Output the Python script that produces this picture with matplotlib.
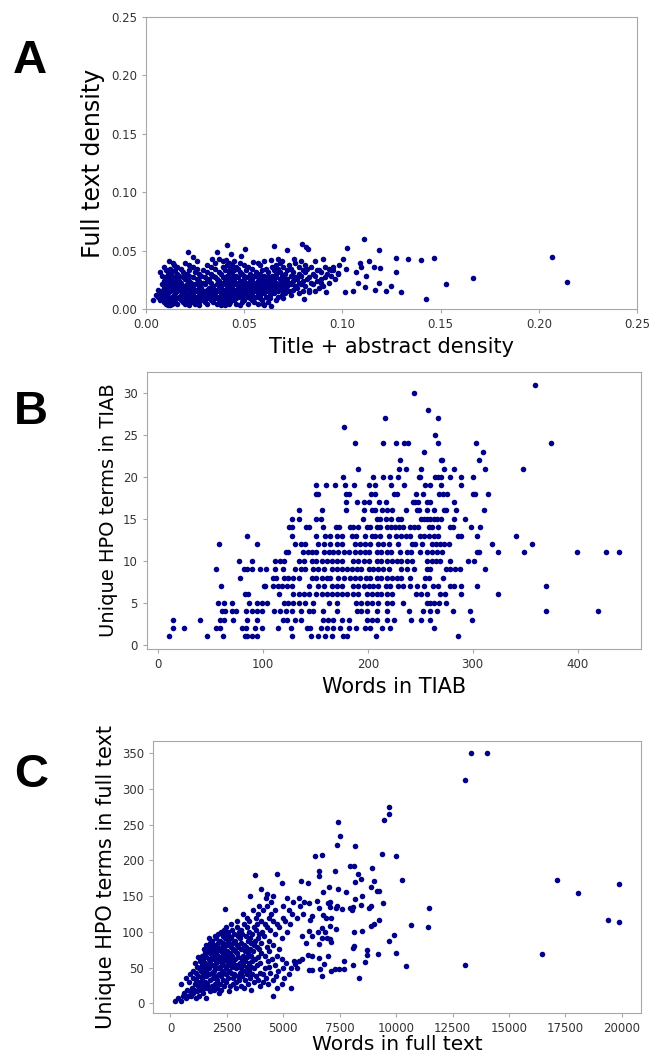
import numpy as np
import matplotlib.pyplot as plt

# ---------- Panel A: title+abstract density vs full text density ----------
# dense cloud, stored as rows (full text density -> list of TIAB densities)
A_row_y = [0.003, 0.0045, 0.006, 0.0075, 0.009, 0.0105, 0.012, 0.0135, 0.015, 0.0165,
           0.018, 0.0195, 0.021, 0.0225, 0.024, 0.0255, 0.027, 0.0285, 0.030, 0.0315,
           0.033, 0.0345, 0.036, 0.0375, 0.039, 0.041]
A_row_x = [
    [0.011, 0.012, 0.022, 0.027, 0.038, 0.040, 0.048, 0.060],
    [0.010, 0.013, 0.016, 0.020, 0.025, 0.031, 0.036, 0.042, 0.046, 0.052, 0.057],
    [0.009, 0.012, 0.015, 0.019, 0.023, 0.027, 0.030, 0.034, 0.039, 0.043, 0.049, 0.055, 0.062],
    [0.007, 0.011, 0.014, 0.018, 0.021, 0.025, 0.029, 0.033, 0.037, 0.041, 0.045, 0.050, 0.054, 0.059, 0.066],
    [0.008, 0.012, 0.016, 0.020, 0.024, 0.027, 0.031, 0.035, 0.038, 0.042, 0.046, 0.049, 0.053, 0.058, 0.063, 0.070],
    [0.006, 0.010, 0.013, 0.017, 0.022, 0.026, 0.029, 0.033, 0.037, 0.040, 0.044, 0.048, 0.052, 0.056, 0.061, 0.067],
    [0.005, 0.009, 0.014, 0.018, 0.021, 0.024, 0.028, 0.032, 0.035, 0.039, 0.043, 0.047, 0.051, 0.054, 0.058, 0.063, 0.069, 0.074],
    [0.007, 0.011, 0.015, 0.019, 0.023, 0.027, 0.030, 0.034, 0.038, 0.041, 0.045, 0.049, 0.053, 0.057, 0.060, 0.065, 0.071, 0.078],
    [0.008, 0.012, 0.016, 0.020, 0.025, 0.029, 0.033, 0.036, 0.040, 0.044, 0.047, 0.051, 0.055, 0.059, 0.062, 0.067, 0.073, 0.080, 0.086],
    [0.006, 0.010, 0.014, 0.018, 0.022, 0.026, 0.031, 0.035, 0.039, 0.042, 0.046, 0.050, 0.053, 0.057, 0.061, 0.064, 0.069, 0.075, 0.083],
    [0.009, 0.013, 0.017, 0.021, 0.024, 0.028, 0.032, 0.037, 0.041, 0.044, 0.048, 0.052, 0.056, 0.059, 0.063, 0.066, 0.071, 0.077, 0.088],
    [0.011, 0.015, 0.019, 0.023, 0.027, 0.034, 0.038, 0.043, 0.047, 0.050, 0.054, 0.058, 0.061, 0.065, 0.068, 0.072, 0.076, 0.081, 0.090],
    [0.008, 0.012, 0.016, 0.021, 0.025, 0.030, 0.036, 0.040, 0.045, 0.049, 0.052, 0.056, 0.060, 0.064, 0.067, 0.070, 0.074, 0.079, 0.085],
    [0.010, 0.014, 0.018, 0.023, 0.029, 0.033, 0.039, 0.042, 0.046, 0.051, 0.055, 0.058, 0.062, 0.066, 0.069, 0.073, 0.078, 0.084, 0.093],
    [0.009, 0.013, 0.017, 0.022, 0.027, 0.031, 0.037, 0.041, 0.044, 0.048, 0.053, 0.057, 0.061, 0.065, 0.071, 0.075, 0.080, 0.087],
    [0.011, 0.015, 0.020, 0.026, 0.032, 0.036, 0.040, 0.045, 0.050, 0.054, 0.059, 0.063, 0.068, 0.072, 0.077, 0.082, 0.089, 0.096],
    [0.010, 0.014, 0.019, 0.024, 0.030, 0.035, 0.039, 0.043, 0.047, 0.052, 0.057, 0.062, 0.066, 0.070, 0.076, 0.083, 0.091],
    [0.008, 0.012, 0.017, 0.022, 0.028, 0.034, 0.041, 0.046, 0.050, 0.055, 0.060, 0.064, 0.069, 0.074, 0.079, 0.086, 0.094],
    [0.011, 0.016, 0.021, 0.027, 0.033, 0.038, 0.044, 0.049, 0.053, 0.058, 0.066, 0.071, 0.078, 0.085, 0.092, 0.098],
    [0.007, 0.013, 0.019, 0.025, 0.031, 0.037, 0.042, 0.048, 0.056, 0.062, 0.068, 0.075, 0.081, 0.089],
    [0.010, 0.015, 0.022, 0.029, 0.040, 0.045, 0.051, 0.059, 0.065, 0.072, 0.080, 0.087, 0.095],
    [0.012, 0.018, 0.026, 0.035, 0.043, 0.047, 0.054, 0.061, 0.067, 0.074, 0.082, 0.093],
    [0.009, 0.016, 0.024, 0.033, 0.039, 0.046, 0.052, 0.064, 0.070, 0.078, 0.084, 0.091],
    [0.014, 0.022, 0.031, 0.041, 0.044, 0.050, 0.058, 0.066, 0.073, 0.081],
    [0.020, 0.035, 0.042, 0.048, 0.057, 0.068, 0.076],
    [0.026, 0.039, 0.045, 0.060, 0.069, 0.079],
]
# sparse points outside the cloud
A_extra_x = [0.1109, 0.2069, 0.2143, 0.1666, 0.1529, 0.1427, 0.1467, 0.1401, 0.1333, 0.1274,
             0.1274, 0.1299, 0.1248, 0.1223, 0.1184, 0.1192, 0.1185, 0.1168, 0.1163, 0.1135,
             0.1121, 0.1114, 0.1095, 0.1092, 0.1070, 0.1079, 0.1053, 0.1024, 0.1019, 0.1011,
             0.1002, 0.0985, 0.0977, 0.0951, 0.0943, 0.0917, 0.0900, 0.0892, 0.0883, 0.0858,
             0.0832, 0.0825, 0.0815, 0.0793, 0.0802, 0.0718, 0.0654, 0.0504, 0.0411, 0.0362,
             0.0212, 0.0241, 0.0435, 0.0484, 0.0336, 0.0374, 0.0408, 0.0543, 0.0637, 0.0671,
             0.0751, 0.0119, 0.0136, 0.0598, 0.0637, 0.0034]
A_extra_y = [0.0599, 0.0448, 0.0234, 0.0268, 0.0211, 0.0086, 0.0436, 0.0416, 0.0428, 0.0439,
             0.0314, 0.0148, 0.0197, 0.0151, 0.0502, 0.0348, 0.0219, 0.0162, 0.0362, 0.0413,
             0.0285, 0.0191, 0.0362, 0.0396, 0.0319, 0.0219, 0.0154, 0.0519, 0.0339, 0.0148,
             0.0428, 0.0376, 0.0305, 0.0362, 0.0334, 0.0148, 0.0428, 0.0219, 0.0334, 0.0413,
             0.0148, 0.0510, 0.0527, 0.0553, 0.0083, 0.0507, 0.0536, 0.0516, 0.0550, 0.0487,
             0.0485, 0.0445, 0.0467, 0.0453, 0.0425, 0.0428, 0.0419, 0.0405, 0.0419, 0.0425,
             0.0425, 0.0413, 0.0391, 0.0040, 0.0029, 0.0077]

# ---------- Panel B: words in TIAB vs unique HPO terms (integer levels) ----------
B_levels = [1, 2, 3, 4, 5, 6, 7, 8, 9, 10, 11, 12, 13, 14, 15, 16, 17, 18, 19, 20,
            21, 22, 23, 24, 25, 26, 27, 28, 30, 31]
B_words = [
    [11, 47, 62, 83, 85, 90, 94, 128, 146, 153, 159, 166, 176, 180, 208, 286],
    [14, 25, 55, 59, 80, 84, 93, 99, 114, 127, 142, 145, 155, 161, 167, 174, 182, 189, 197, 202, 214, 221, 263],
    [14, 40, 59, 63, 72, 85, 94, 119, 123, 131, 136, 157, 162, 167, 175, 182, 199, 204, 209, 218, 225, 241, 251, 259, 299],
    [61, 64, 71, 74, 84, 90, 94, 99, 111, 116, 122, 128, 136, 144, 148, 157, 171, 190, 194, 199, 209, 218, 239, 253, 259, 266, 281, 297, 370, 419],
    [57, 63, 71, 87, 94, 99, 104, 120, 124, 129, 134, 140, 148, 163, 171, 189, 194, 199, 204, 210, 218, 223, 234, 256, 259, 263, 268, 275],
    [83, 86, 115, 129, 134, 139, 144, 151, 156, 161, 166, 171, 175, 180, 186, 191, 199, 204, 209, 213, 218, 223, 246, 251, 256, 269, 274, 289, 324],
    [60, 101, 102, 110, 114, 118, 123, 128, 144, 153, 158, 166, 171, 175, 186, 191, 196, 201, 205, 210, 217, 221, 229, 234, 240, 247, 254, 262, 267, 278, 282, 289, 304, 370],
    [78, 110, 113, 120, 124, 129, 134, 147, 151, 156, 161, 164, 172, 177, 183, 188, 193, 198, 202, 209, 213, 218, 223, 228, 232, 240, 255, 258, 272],
    [55, 82, 85, 90, 97, 103, 112, 119, 131, 136, 140, 148, 153, 158, 166, 171, 175, 180, 185, 190, 194, 201, 205, 210, 215, 220, 232, 237, 244, 256, 259, 275, 278, 283, 288, 312],
    [77, 90, 112, 116, 120, 134, 139, 147, 151, 156, 161, 166, 171, 175, 186, 191, 196, 201, 209, 213, 218, 223, 228, 232, 237, 242, 256, 261, 265, 269, 278, 296, 301],
    [122, 124, 138, 143, 147, 151, 158, 163, 167, 172, 177, 182, 188, 193, 197, 201, 209, 213, 218, 222, 231, 237, 241, 250, 256, 261, 266, 271, 304, 306, 324, 349, 399, 427, 439],
    [58, 94, 131, 136, 140, 153, 158, 164, 171, 175, 188, 193, 197, 202, 210, 215, 220, 229, 242, 245, 252, 261, 265, 269, 273, 277, 318, 357],
    [85, 128, 151, 159, 164, 171, 175, 185, 189, 197, 204, 207, 212, 220, 227, 232, 236, 240, 250, 254, 258, 263, 267, 286, 289, 304, 341],
    [125, 128, 141, 144, 157, 170, 173, 183, 186, 191, 199, 202, 209, 212, 218, 222, 226, 230, 234, 240, 244, 248, 258, 261, 267, 278, 281, 298, 307],
    [128, 134, 151, 155, 195, 209, 212, 217, 222, 229, 232, 251, 254, 256, 259, 263, 266, 270, 282, 293],
    [134, 156, 179, 196, 204, 207, 214, 218, 223, 236, 247, 249, 256, 263, 273, 275, 284, 311],
    [179, 190, 196, 201, 211, 217, 243, 245, 248, 256, 259, 282],
    [151, 153, 179, 182, 203, 207, 225, 228, 246, 253, 268, 272, 276, 300, 302, 315],
    [151, 160, 169, 178, 187, 201, 207, 222, 235, 255, 259, 270, 289],
    [176, 205, 215, 221, 229, 249, 250, 264, 267, 270, 278, 289, 300],
    [191, 230, 236, 251, 273, 282, 312, 348],
    [231, 270, 271, 306],
    [254, 310],
    [188, 215, 227, 235, 238, 267, 303, 375],
    [264],
    [177],
    [216, 267],
    [257],
    [244],
    [359],
]

# ---------- Panel C: words in full text vs unique HPO terms ----------
C_row_y = [4, 7, 11, 14, 17, 19, 22, 25, 27, 30, 33, 35, 38, 41, 43, 46, 49, 51, 54, 57,
           59, 62, 65, 67, 70, 73, 76, 79, 82, 85, 88, 91, 94, 97, 100, 103, 107, 111,
           115, 120, 125, 130, 136, 142, 147]
C_row_x = [
    [221, 460],
    [330, 690, 1130, 1590],
    [540, 760, 905, 1280, 4544],
    [615, 980, 1420, 2130],
    [850, 1190, 1760, 2610],
    [735, 1060, 1330, 1910, 2240, 3560],
    [940, 1520, 1680, 2070, 2890, 3270, 4720],
    [1210, 1440, 1830, 2380, 2640, 3130, 3980],
    [460, 1070, 1620, 1980, 2190, 2770, 3420, 4310, 4960],
    [830, 1290, 1510, 2460, 2920, 3690, 4110],
    [1120, 1740, 2080, 2330, 3040, 3310, 3860, 4540],
    [690, 980, 1390, 1880, 2570, 2760, 3520, 4220, 5010],
    [1240, 1570, 2010, 2240, 2990, 3180, 3770, 4690],
    [880, 1450, 1690, 2160, 2480, 2830, 3390, 3620, 4090, 5230],
    [1130, 1820, 2370, 2690, 3070, 3960, 4430],
    [1010, 1360, 1590, 1930, 2290, 2580, 3240, 3480, 4760],
    [1280, 1720, 2110, 2440, 2890, 3130, 3710, 4170, 4980],
    [1170, 1480, 1990, 2210, 2730, 3390, 3560, 4370],
    [1390, 1610, 1860, 2340, 2560, 2940, 3220, 3820, 4620],
    [1090, 1540, 2030, 2270, 2790, 3070, 3460, 3980, 5120],
    [1310, 1770, 2160, 2490, 2660, 3280, 3610, 4310],
    [1460, 1690, 1920, 2380, 2850, 3150, 3740, 4490, 4930],
    [1240, 1580, 2060, 2230, 2570, 2990, 3390, 3880],
    [1390, 1830, 2120, 2460, 2740, 3220, 3560, 4170, 4710],
    [1520, 1740, 2010, 2330, 2620, 2960, 3440, 4030],
    [1610, 1920, 2240, 2510, 2880, 3290, 3670, 4380],
    [1480, 1830, 2150, 2370, 2790, 3130, 3510, 3930, 4820],
    [1690, 2040, 2280, 2680, 3010, 3360, 3820, 4270],
    [1580, 1910, 2460, 2590, 2930, 3240, 3690, 4560],
    [1760, 2090, 2310, 2770, 3110, 3580, 4010],
    [1860, 2190, 2550, 2860, 3420, 3760, 4380],
    [1720, 2030, 2410, 2680, 3080, 3510, 3890, 4920],
    [1980, 2320, 2610, 2990, 3330, 4140],
    [2120, 2470, 2830, 3190, 3620, 3930, 4610],
    [2230, 2560, 3040, 3460, 4060, 5180],
    [2390, 2740, 3120, 3780, 4420],
    [2480, 2940, 3390, 3690, 4290, 4830],
    [2660, 3260, 3840, 4170, 4710, 5310],
    [2960, 3480, 4030, 4540, 5090],
    [3370, 3770, 4380, 4990, 5620],
    [3210, 3890, 4470, 5380, 5870],
    [3660, 4120, 4630, 5260],
    [3940, 4280, 4970, 5740],
    [4470, 5430, 5930],
    [4230, 5160, 5680],
]
C_extra_x = [13319, 14012, 13068, 13068, 9705, 9676, 9455, 7419, 7522, 7375,
             8186, 6416, 6711, 9352, 10015, 7935, 8127, 8938, 7287, 6593,
             3761, 4735, 8304, 8437, 6578, 10266, 17110, 19868, 5797, 6092,
             4956, 9041, 8171, 4012, 18051, 7419, 7021, 8864, 9145, 9234,
             7773, 6755, 3525, 4528, 4277, 11461, 2404, 19382, 19868, 10679,
             11417, 9897, 9691, 16446, 9986, 9175, 10428, 8334, 8599, 8687,
             7685, 7670, 7464, 7302, 7095, 6711, 6637, 6121, 6254, 8083,
             8791, 8894, 9041, 9234, 9411, 8481, 8879, 8451, 8097, 7950,
             8053, 8171, 7582, 8112, 8068, 8496, 8702, 8142, 7331, 7050,
             7080, 7124, 6977, 6918, 6711, 6578, 6270, 6888, 7110, 7346,
             7050, 7390, 6977, 7065, 6490, 6593, 6121, 6254, 6195, 6771,
             6150, 6520, 6859, 6711, 6593, 6268, 6800, 5841, 6003, 6077,
             5679, 5841, 5457, 5605, 5531, 5325, 5340]
C_extra_y = [349.5, 349.5, 312.6, 54.2, 274, 265, 256.5, 254, 234.6, 221.5,
             219.6, 206.5, 207.5, 208.4, 206.5, 192.5, 192, 189.7, 185.5, 185.5,
             180, 180.8, 180.8, 174.3, 178, 172.4, 172.4, 166.4, 171.5, 168.2,
             168.7, 170.6, 169.6, 160.3, 154.7, 160.3, 162.6, 162.2, 157.5, 157.5,
             155.6, 155.6, 149.5, 149.5, 152.8, 133.2, 132.7, 116.4, 113.6, 109.3,
             106.5, 96.3, 87.4, 69.6, 70.6, 69.6, 52.3, 36, 57.5, 74.8,
             59.8, 47.7, 47.7, 47.7, 45.8, 38.3, 47.7, 46.7, 46.7, 54.2,
             133.6, 108.4, 111.2, 116.8, 140.7, 149.5, 136.9, 138.3, 134.6, 133.2,
             130.4, 145.3, 131.8, 80, 78, 101.4, 68.2, 99.5, 104.2, 108,
             89.7, 86.5, 65.9, 91, 105.6, 83.2, 94.9, 119.6, 119.6, 133.6,
             134.6, 136.4, 141.1, 142.5, 143.5, 134.1, 140.2, 122, 116.8, 123.8,
             101.9, 100, 100, 91, 64, 66.4, 55, 94.4, 85, 67.3,
             58.9, 62.6, 59.3, 49, 55, 50, 21]

# flatten row-wise data
a_x = [x for row in A_row_x for x in row] + A_extra_x
a_y = [y for y, row in zip(A_row_y, A_row_x) for _ in row] + A_extra_y
b_x = [x for row in B_words for x in row]
b_y = [lv for lv, row in zip(B_levels, B_words) for _ in row]
c_x = [x for row in C_row_x for x in row] + C_extra_x
c_y = [y for y, row in zip(C_row_y, C_row_x) for _ in row] + C_extra_y

dot = dict(s=16, color='#00008b', linewidths=0)
spine_col = '#a8a8a8'

fig = plt.figure(figsize=(6.51, 10.53), dpi=100)
axA = fig.add_axes([0.2243, 0.7066, 0.7542, 0.2773])
axB = fig.add_axes([0.2258, 0.3837, 0.7588, 0.2630])
axC = fig.add_axes([0.2355, 0.0380, 0.7491, 0.2583])

axA.scatter(a_x, a_y, **dot)
axA.set_xlim(0, 0.25)
axA.set_ylim(0, 0.25)
axA.set_xticks(np.arange(0, 0.26, 0.05))
axA.set_yticks(np.arange(0, 0.26, 0.05))
axA.set_xlabel("Title + abstract density", fontsize=15)
axA.set_ylabel("Full text density", fontsize=17)

axB.scatter(b_x, b_y, **dot)
axB.set_xticks([0, 100, 200, 300, 400])
axB.set_yticks([0, 5, 10, 15, 20, 25, 30])
axB.set_xlabel("Words in TIAB", fontsize=15)
axB.set_ylabel("Unique HPO terms in TIAB", fontsize=14)

axC.scatter(c_x, c_y, **dot)
axC.set_xticks(np.arange(0, 20001, 2500))
axC.set_yticks(np.arange(0, 351, 50))
axC.set_xlabel("Words in full text", fontsize=14.5, labelpad=0)
axC.set_ylabel("Unique HPO terms in full text", fontsize=15)

for ax in (axA, axB, axC):
    for sp in ax.spines.values():
        sp.set_color(spine_col)
    ax.tick_params(labelsize=8.5, colors='#333333', length=3, width=0.8)
    ax.tick_params(color=spine_col)

for letter, (lx, ly) in zip("ABC", [(0.046, 0.942), (0.048, 0.609), (0.048, 0.264)]):
    fig.text(lx, ly, letter, fontsize=34, fontweight='bold', family='Liberation Sans',
             ha='center', va='center')

plt.savefig('out.png', dpi=100)
